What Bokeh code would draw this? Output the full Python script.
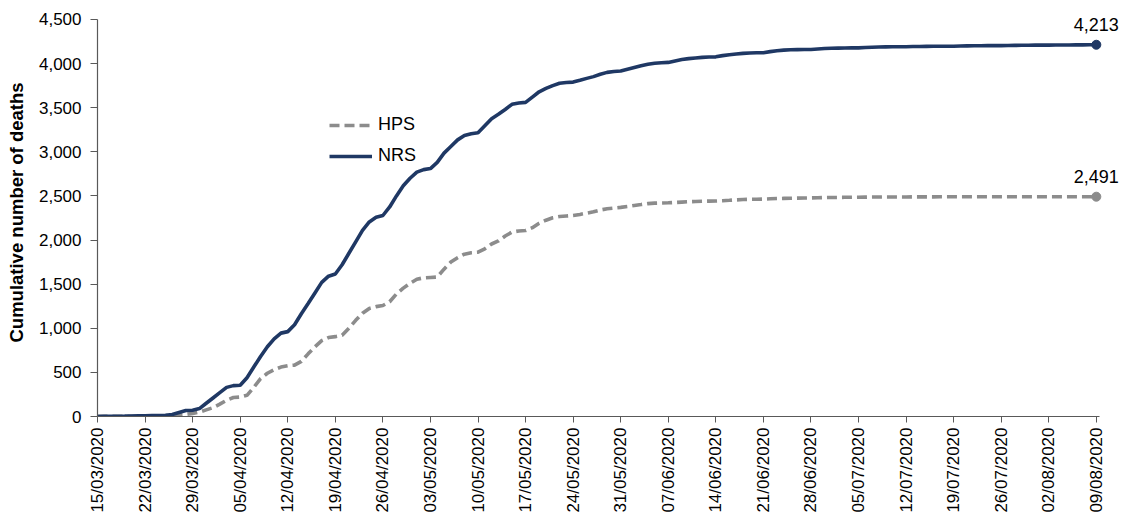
import math
import pandas as pd
from bokeh.plotting import figure
from bokeh.models import (ColumnDataSource, Range1d, FixedTicker, DatetimeTickFormatter,
                          Legend, LegendItem, Label, NumeralTickFormatter)
from bokeh.embed import file_html
from bokeh.resources import INLINE

# ---- data ----
start_date = "2020-03-15"
end_date = "2020-08-09"
dates = list(pd.date_range(start_date, end_date, freq="D"))

nrs = [0, 1, 2, 3, 4, 6, 7, 8, 10, 12, 14, 22,
       45, 68, 70,
       90, 150, 210, 270, 330, 350, 355,
       440, 560, 680, 790, 880, 945, 962,
       1040, 1165, 1280, 1400, 1520, 1590, 1615,
       1720, 1850, 1980, 2110, 2205, 2258, 2278,
       2375, 2500, 2615, 2700, 2770, 2798, 2810,
       2880, 2985, 3060, 3135, 3185, 3205, 3215,
       3295, 3375, 3425, 3480, 3538, 3553, 3560,
       3620, 3680, 3718, 3750, 3777, 3786, 3790,
       3810, 3832, 3852, 3878, 3900, 3910, 3915,
       3935, 3955, 3975, 3992, 4004, 4010, 4013,
       4030, 4045, 4056, 4063, 4070, 4074, 4076,
       4090, 4100, 4108, 4115, 4120, 4122, 4123,
       4135, 4145, 4152, 4156, 4158, 4159, 4160,
       4165, 4170, 4173, 4175, 4177, 4178, 4178,
       4182, 4185, 4187, 4189, 4190, 4190, 4191,
       4193, 4194, 4195, 4196, 4197, 4197, 4197,
       4199, 4200, 4201, 4202, 4203, 4203, 4203,
       4205, 4206, 4207, 4208, 4209, 4209, 4209,
       4210, 4211, 4211, 4212, 4212, 4213, 4213]

hps = [1, 1, 1, 2, 2, 3, 3, 5, 6, 7, 9, 12,
       15, 24, 35,
       50, 75, 100, 140, 185, 215, 220,
       240, 330, 430, 490, 530, 560, 575,
       582, 625, 710, 790, 860, 895, 905,
       920, 1000, 1090, 1170, 1225, 1245, 1258,
       1300, 1390, 1455, 1510, 1555, 1572, 1576,
       1580, 1670, 1750, 1800, 1840, 1855, 1862,
       1900, 1955, 1990, 2045, 2090, 2103, 2108,
       2140, 2190, 2225, 2252, 2266, 2272, 2278,
       2290, 2305, 2320, 2340, 2354, 2362, 2370,
       2380, 2392, 2402, 2413, 2418, 2420, 2422,
       2426, 2430, 2434, 2437, 2440, 2441, 2442,
       2446, 2450, 2455, 2459, 2462, 2463, 2464,
       2467, 2470, 2472, 2474, 2475, 2476, 2477,
       2479, 2481, 2482, 2483, 2484, 2484, 2485,
       2486, 2487, 2487, 2488, 2488, 2488, 2488,
       2489, 2489, 2489, 2489, 2490, 2490, 2490,
       2490, 2490, 2490, 2490, 2490, 2490, 2490,
       2490, 2491, 2491, 2491, 2491, 2491, 2491,
       2491, 2491, 2491, 2491, 2491, 2491, 2491]

series_names = ["HPS", "NRS"]
y_ticks = [0, 500, 1000, 1500, 2000, 2500, 3000, 3500, 4000, 4500]
tick_dates = list(pd.date_range(start_date, end_date, freq="7D"))

NAVY = "#1F3864"
GREY = "#8C8C8C"
AXIS = "#595959"
FONT = "Liberation Sans"

src = ColumnDataSource(dict(date=dates, nrs=nrs, hps=hps))

DAY = 86400000.0

def ms(ts):
    return pd.Timestamp(ts).value / 1e6

x_start = ms(dates[0])
x_end = ms(dates[0]) + 151.0 * DAY

p = figure(width=1125, height=521, output_backend="svg", toolbar_location=None,
           x_axis_type="datetime",
           x_range=Range1d(x_start, x_end), y_range=Range1d(0, 4624),
           min_border_left=97, min_border_right=2, min_border_top=8, min_border_bottom=105)
p.outline_line_color = None
p.xgrid.visible = False
p.ygrid.visible = False
p.background_fill_color = "white"

r_hps = p.line("date", "hps", source=src, line_color=GREY, line_width=3.6,
               line_dash="10 5")
r_nrs = p.line("date", "nrs", source=src, line_color=NAVY, line_width=3.6)

# end markers
p.scatter([dates[-1]], [hps[-1]], size=9, color=GREY)
p.scatter([dates[-1]], [nrs[-1]], size=9, color=NAVY)

for val in (nrs[-1], hps[-1]):
    p.add_layout(Label(x=dates[-1], y=val, text=f"{val:,}", text_align="center",
                       text_baseline="alphabetic", y_offset=20, text_font=FONT,
                       text_font_size="18px", text_color="#000000"))

# axes
xa = p.xaxis[0]
xa.ticker = FixedTicker(ticks=[ms(t) for t in tick_dates])
xa.formatter = DatetimeTickFormatter(days="%d/%m/%Y", months="%d/%m/%Y", years="%d/%m/%Y")
xa.major_label_orientation = math.pi / 2
xa.bounds = (x_start, ms(dates[-1]) + 0.5 * DAY)

ya = p.yaxis[0]
ya.ticker = FixedTicker(ticks=y_ticks)
ya.formatter = NumeralTickFormatter(format="0,0")
ya.bounds = (0, 4500)
ya.axis_label = "Cumulative number of deaths"
ya.axis_label_text_font = FONT
ya.axis_label_text_font_style = "bold"
ya.axis_label_text_font_size = "18.5px"
ya.axis_label_text_color = "#000000"
ya.axis_label_standoff = 9

for ax in (xa, ya):
    ax.axis_line_color = AXIS
    ax.axis_line_width = 1.2
    ax.major_tick_line_color = AXIS
    ax.major_tick_in = 0
    ax.major_tick_out = 6
    ax.minor_tick_line_color = None
    ax.major_label_text_font = FONT
    ax.major_label_text_font_size = "17px"
    ax.major_label_text_color = "#000000"
ya.major_tick_out = 7
ya.major_label_standoff = 9
xa.major_label_standoff = 5

legend = Legend(items=[LegendItem(label=series_names[0], renderers=[r_hps]),
                       LegendItem(label=series_names[1], renderers=[r_nrs])],
                location=(232, 250), orientation="vertical",
                glyph_width=43, glyph_height=20, label_height=20, spacing=10,
                label_standoff=6, padding=0, margin=0,
                border_line_color=None, background_fill_alpha=0,
                label_text_font=FONT, label_text_font_size="18px",
                label_text_color="#000000")
p.add_layout(legend)

open("out.html", "w").write(file_html(p, INLINE))
